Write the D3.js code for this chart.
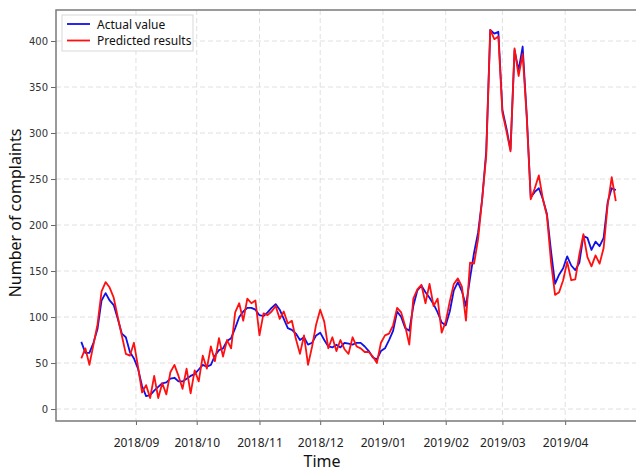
<!DOCTYPE html>
<html>
<head>
<meta charset="utf-8">
<script src="https://cdn.jsdelivr.net/npm/d3@7"></script>
<style>
  body { margin: 0; background: #fff; }
  svg { display: block; }
</style>
</head>
<body>
<svg width="636" height="472"></svg>
<script>
// daily samples every 2 days, starting 2018-08-05
const startDate = new Date(2018, 7, 5);
const stepDays = 2;

const actual = [
  73, 61, 61, 72, 87, 118, 126, 118, 113, 98,
  82, 78, 62, 55, 44, 25, 14, 15, 20, 24,
  28, 29, 33, 34, 30, 30, 33, 36, 38, 43,
  48, 46, 48, 58, 64, 66, 74, 77, 88, 100,
  106, 110, 110, 108, 102, 101, 105, 110, 114, 108,
  98, 88, 86, 82, 75, 78, 70, 72, 80, 83,
  75, 68, 67, 70, 67, 72, 71, 70, 72, 72,
  68, 63, 56, 54, 63, 66, 75, 85,
  106, 100, 88, 85, 112, 129, 134, 127, 121, 114, 105, 94,
  91, 106, 129, 138, 128, 112, 142, 170, 192, 228,
  280, 412, 408, 410, 325, 305, 282, 390, 368, 394,
  320, 230, 236, 240, 228, 212, 172, 136, 146, 153,
  166, 156, 151, 159, 188, 186, 173, 182, 177, 186,
  225, 240, 238
];

const predicted = [
  55, 66, 48, 70, 92, 128, 138, 132, 121, 100,
  80, 60, 58, 72, 46, 18, 26, 12, 36, 12,
  28, 16, 40, 48, 36, 22, 44, 17, 42, 30,
  58, 44, 68, 52, 77, 57, 75, 66, 105, 115,
  96, 120, 115, 118, 80, 104, 102, 106, 112, 98,
  106, 93, 96, 76, 60, 80, 48, 68, 92, 108,
  95, 66, 78, 63, 75, 65, 60, 78, 68, 66,
  62, 62, 57, 50, 72, 80, 82, 91,
  110, 105, 90, 70, 120, 130, 135, 115, 136, 112, 120, 83,
  95, 117, 136, 142, 133, 96, 159, 158, 185, 228,
  275, 412, 402, 405, 322, 302, 280, 392, 362, 386,
  318, 228, 240, 254, 228, 210, 160, 124, 127, 140,
  160, 140, 141, 168, 190, 165, 155, 167, 158, 175,
  222, 252, 226
];

const yTicks = [0, 50, 100, 150, 200, 250, 300, 350, 400];
const xTicks = [
  new Date(2018, 8, 1), new Date(2018, 9, 1), new Date(2018, 10, 1), new Date(2018, 11, 1),
  new Date(2019, 0, 1), new Date(2019, 1, 1), new Date(2019, 2, 1), new Date(2019, 3, 1)
];
const seriesNames = ["Actual value", "Predicted results"];
const colors = ["#1010e8", "#ff1010"];

const dates = actual.map((_, i) => d3.timeDay.offset(startDate, i * stepDays));

const svg = d3.select("svg");
const plotLeft = 56, plotRight = 636, plotTop = 10, plotBottom = 421;

const x = d3.scaleTime()
  .domain([new Date(2018, 6, 23, 12), new Date(2019, 4, 5)])
  .range([plotLeft, plotRight - 2]);

const y = d3.scaleLinear()
  .domain([-13, 433.7])
  .range([plotBottom, plotTop]);

// grid
const grid = svg.append("g")
  .attr("stroke", "#dcdcdc")
  .attr("stroke-width", 0.9)
  .attr("stroke-dasharray", "5,3");

grid.selectAll("line.h")
  .data(yTicks)
  .enter().append("line")
  .attr("x1", plotLeft).attr("x2", plotRight)
  .attr("y1", d => y(d)).attr("y2", d => y(d));

grid.selectAll("line.v")
  .data(xTicks)
  .enter().append("line")
  .attr("x1", d => x(d)).attr("x2", d => x(d))
  .attr("y1", plotTop).attr("y2", plotBottom);

// lines
const line = d3.line()
  .x((d, i) => x(dates[i]))
  .y(d => y(d));

[actual, predicted].forEach((series, i) => {
  svg.append("path")
    .datum(series)
    .attr("fill", "none")
    .attr("stroke", colors[i])
    .attr("stroke-width", 1.8)
    .attr("stroke-linejoin", "round")
    .attr("d", line);
});

// axes
const xAxis = svg.append("g")
  .attr("transform", `translate(0,${plotBottom})`)
  .call(d3.axisBottom(x).tickValues(xTicks).tickFormat(d3.timeFormat("%Y/%m")).tickSize(4).tickPadding(13));

const yAxis = svg.append("g")
  .attr("transform", `translate(${plotLeft},0)`)
  .call(d3.axisLeft(y).tickValues(yTicks).tickSize(5).tickPadding(3));

xAxis.select(".domain").remove();
yAxis.select(".domain").remove();

svg.selectAll(".tick line").attr("stroke", "#666").attr("stroke-width", 1);
xAxis.selectAll("text")
  .attr("fill", "#222")
  .style("font", "12px 'Noto Sans'");
yAxis.selectAll("text")
  .attr("fill", "#333")
  .style("font", "10px 'DejaVu Sans'");

// spines
svg.append("path")
  .attr("fill", "none")
  .attr("stroke", "#7a7a7a")
  .attr("stroke-width", 1.5)
  .attr("d", `M${plotRight},${plotTop}H${plotLeft}V${plotBottom}H${plotRight}`);

// axis titles
svg.append("text")
  .attr("x", 322).attr("y", 467)
  .attr("text-anchor", "middle")
  .style("font", "16px 'Noto Sans'")
  .attr("fill", "#111")
  .text("Time");

svg.append("text")
  .attr("transform", "translate(21,213) rotate(-90)")
  .attr("text-anchor", "middle")
  .style("font", "16px 'Noto Sans'")
  .attr("fill", "#111")
  .text("Number of complaints");

// legend
const legend = svg.append("g");
legend.append("rect")
  .attr("x", 62).attr("y", 15)
  .attr("width", 131).attr("height", 36)
  .attr("fill", "#fff")
  .attr("stroke", "#d8d8d8");

seriesNames.forEach((name, i) => {
  const ly = 24 + i * 16.5;
  legend.append("line")
    .attr("x1", 67).attr("x2", 90)
    .attr("y1", ly).attr("y2", ly)
    .attr("stroke", colors[i])
    .attr("stroke-width", 1.8);
  legend.append("text")
    .attr("x", 97).attr("y", ly + 4.5)
    .style("font", "12px 'Noto Sans'")
    .attr("fill", "#111")
    .text(name);
});
</script>
</body>
</html>
